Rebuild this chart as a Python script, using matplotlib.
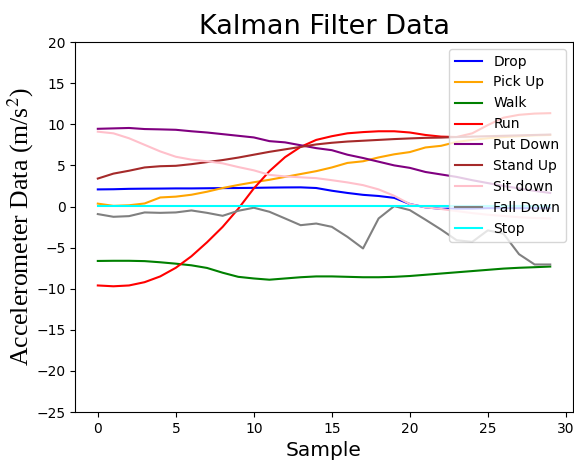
"""
kalman_plot.py

Plots the Kalman-filtered accelerometer traces for each activity class.

"""
import matplotlib
matplotlib.use("Agg")
import matplotlib.pyplot as plt
import numpy as np

plt.rcParams["mathtext.fontset"] = "stix"

# filtered accelerometer output, one value per sample
samples = np.arange(30)

drop = [2.08, 2.1, 2.15, 2.17, 2.18, 2.2, 2.2, 2.22, 2.24, 2.25,
        2.27, 2.3, 2.32, 2.33, 2.25, 1.92, 1.65, 1.42, 1.28, 1.05,
        0.3, -0.1, -0.28, -0.25, -0.25, -0.2, -0.2, -0.2, -0.2, -0.2]
pick_up = [0.35, 0.08, 0.15, 0.37, 1.1, 1.2, 1.43, 1.8, 2.25, 2.62,
           2.95, 3.25, 3.6, 3.95, 4.3, 4.75, 5.3, 5.5, 5.97, 6.35,
           6.62, 7.18, 7.38, 7.85, 8.1, 8.3, 8.45, 8.55, 8.65, 8.7]
walk = [-6.62, -6.6, -6.6, -6.64, -6.78, -6.95, -7.15, -7.47, -8.05, -8.55,
        -8.75, -8.9, -8.75, -8.6, -8.5, -8.5, -8.55, -8.6, -8.6, -8.55,
        -8.45, -8.3, -8.15, -8.0, -7.85, -7.7, -7.55, -7.45, -7.38, -7.3]
run = [-9.6, -9.7, -9.6, -9.2, -8.5, -7.45, -6.05, -4.35, -2.48, -0.28,
       2.2, 4.3, 6.0, 7.25, 8.1, 8.55, 8.9, 9.05, 9.15, 9.15,
       9.0, 8.7, 8.5, 8.45, 8.9, 9.9, 10.8, 11.15, 11.3, 11.35]
put_down = [9.45, 9.5, 9.55, 9.42, 9.38, 9.33, 9.15, 9.0, 8.8, 8.6,
            8.4, 7.95, 7.8, 7.45, 7.1, 6.85, 6.3, 5.9, 5.45, 5.0,
            4.7, 4.2, 3.9, 3.6, 3.2, 2.85, 2.5, 2.2, 1.9, 1.65]
stand_up = [3.4, 4.0, 4.35, 4.75, 4.9, 4.95, 5.15, 5.4, 5.65, 5.95,
            6.3, 6.65, 6.95, 7.25, 7.55, 7.75, 7.9, 8.0, 8.1, 8.2,
            8.28, 8.35, 8.38, 8.45, 8.5, 8.55, 8.6, 8.65, 8.7, 8.75]
sit_down = [9.1, 8.9, 8.3, 7.5, 6.7, 6.05, 5.7, 5.5, 5.25, 4.8,
            4.4, 3.85, 3.66, 3.55, 3.45, 3.2, 2.93, 2.6, 2.08, 1.3,
            0.3, -0.1, -0.3, -0.55, -0.8, -1.0, -1.15, -1.3, -1.4, -1.45]
fall_down = [-0.92, -1.25, -1.17, -0.72, -0.77, -0.72, -0.48, -0.77, -1.13, -0.52,
             -0.15, -0.64, -1.45, -2.27, -2.07, -2.47, -3.69, -5.1, -1.45, 0.05,
             -0.44, -1.6, -2.8, -4.1, -4.3, -2.9, -3.3, -5.8, -7.05, -7.05]
stop = [0.1, 0.1, 0.1, 0.1, 0.1, 0.1, 0.1, 0.1, 0.1, 0.1,
        0.1, 0.1, 0.1, 0.1, 0.1, 0.1, 0.1, 0.1, 0.1, 0.1,
        0.1, 0.1, 0.1, 0.1, 0.1, 0.1, 0.1, 0.1, 0.1, 0.1]

activities = ["Drop", "Pick Up", "Walk", "Run", "Put Down",
              "Stand Up", "Sit down", "Fall Down", "Stop"]
series = [drop, pick_up, walk, run, put_down, stand_up, sit_down, fall_down, stop]
colours = ["blue", "orange", "green", "red", "purple",
           "brown", "pink", "gray", "cyan"]


def plot_kalman():
    fig, ax = plt.subplots(figsize=(5.74, 4.62), dpi=100)
    fig.subplots_adjust(left=0.131, right=0.998, top=0.909, bottom=0.108)

    for name, values, colour in zip(activities, series, colours):
        ax.plot(samples, values, color=colour, label=name)

    ax.set_ylim(-25, 20)
    ax.set_title("Kalman Filter Data", fontsize=19.5)
    ax.set_xlabel("Sample", fontsize=14.5)
    ax.set_ylabel("Accelerometer Data (m/s$^2$)", fontsize=18.5,
                  family="Liberation Serif", labelpad=0.5)
    ax.legend(loc="upper right")

    fig.savefig("out.png")


if __name__ == "__main__":
    plot_kalman()
